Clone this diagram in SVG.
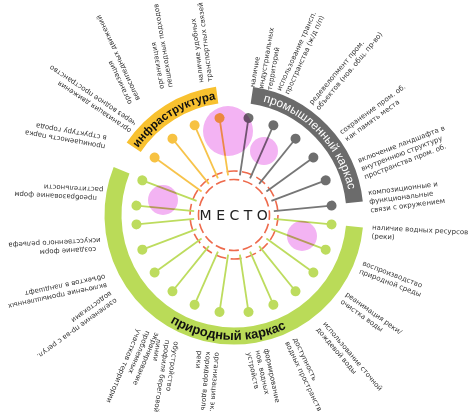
<svg xmlns="http://www.w3.org/2000/svg" width="470" height="417" viewBox="0 0 470 417">
<style>
.lbl{font-family:"DejaVu Sans","Liberation Sans",sans-serif;font-size:7px;fill:#333}
.band{fill:none;stroke-width:17}
.sp{stroke-width:1.8}
.g{stroke:#bddc5e}.gd{fill:#bddc5e}
.o{stroke:#f7c34a}.od{fill:#f7c242}
.k{stroke:#767676}.kd{fill:#6e6e6e}
.ring{fill:none;stroke:#ee6a4c;stroke-width:1.6}
.pink{fill:#f3b3f3}
.arct{font-family:"Liberation Sans","DejaVu Sans",sans-serif}
</style>
<defs>
<path id="pInf" d="M132.68,156.5 A117,117 0 0 1 225.84,98.29"/>
<path id="pProm" d="M234,98 A117,117 0 0 1 350.93,219.08"/>
<path id="pPrir" d="M141.11,298.64 A125,125 0 0 0 317.64,307.89"/>
</defs>
<rect width="470" height="417" fill="#fff"/>

<g id="bands">
<path class="band" stroke="#f8c12f" d="M133.69,147.34 A121,121 0 0 1 217.16,95.18"/>
<path class="band" stroke="#6b6b6b" d="M251.89,95.33 A121,121 0 0 1 354.34,202.35"/>
<path class="band" stroke="#badb58" d="M354.44,226.60 A121,121 0 1 1 121.58,170.26"/>
<text class="arct" font-size="11.5" font-weight="bold" fill="#111"><textPath href="#pInf" startOffset="50%" text-anchor="middle">инфраструктура</textPath></text>
<text class="arct" font-size="12" fill="#fff"><textPath href="#pProm" startOffset="50%" text-anchor="middle">промышленный каркас</textPath></text>
<text class="arct" font-size="13" font-weight="bold" fill="#111"><textPath href="#pPrir" startOffset="50%" text-anchor="middle">природный каркас</textPath></text>
</g>

<g id="rings">
<circle class="ring" cx="234" cy="215" r="44" stroke-dasharray="11 4.36"/>
<circle class="ring" cx="234" cy="215" r="35.5" stroke-dasharray="10 3.94" stroke-dashoffset="5"/>
</g>

<g id="connectors" class="sp">
<line class="g" transform="rotate(5.5 234 215)" x1="274" y1="215" x2="332" y2="215"/>
<line class="g" transform="rotate(20.7 234 215)" x1="274" y1="215" x2="332" y2="215"/>
<line class="g" transform="rotate(35.9 234 215)" x1="274" y1="215" x2="332" y2="215"/>
<line class="g" transform="rotate(51.1 234 215)" x1="274" y1="215" x2="332" y2="215"/>
<line class="g" transform="rotate(66.3 234 215)" x1="274" y1="215" x2="332" y2="215"/>
<line class="g" transform="rotate(81.5 234 215)" x1="274" y1="215" x2="332" y2="215"/>
<line class="g" transform="rotate(98.5 234 215)" x1="274" y1="215" x2="332" y2="215"/>
<line class="g" transform="rotate(113.7 234 215)" x1="274" y1="215" x2="332" y2="215"/>
<line class="g" transform="rotate(128.9 234 215)" x1="274" y1="215" x2="332" y2="215"/>
<line class="g" transform="rotate(144.1 234 215)" x1="274" y1="215" x2="332" y2="215"/>
<line class="g" transform="rotate(159.3 234 215)" x1="274" y1="215" x2="332" y2="215"/>
<line class="g" transform="rotate(174.5 234 215)" x1="274" y1="215" x2="332" y2="215"/>
<line class="g" transform="rotate(185.5 234 215)" x1="274" y1="215" x2="332" y2="215"/>
<line class="g" transform="rotate(200.7 234 215)" x1="274" y1="215" x2="332" y2="215"/>
<line class="o" transform="rotate(215.9 234 215)" x1="274" y1="215" x2="332" y2="215"/>
<line class="o" transform="rotate(231.1 234 215)" x1="274" y1="215" x2="332" y2="215"/>
<line class="o" transform="rotate(246.3 234 215)" x1="274" y1="215" x2="332" y2="215"/>
<line class="o" transform="rotate(261.5 234 215)" x1="274" y1="215" x2="332" y2="215"/>
<line class="k" transform="rotate(278.5 234 215)" x1="274" y1="215" x2="332" y2="215"/>
<line class="k" transform="rotate(293.7 234 215)" x1="274" y1="215" x2="332" y2="215"/>
<line class="k" transform="rotate(308.9 234 215)" x1="274" y1="215" x2="332" y2="215"/>
<line class="k" transform="rotate(324.1 234 215)" x1="274" y1="215" x2="332" y2="215"/>
<line class="k" transform="rotate(339.3 234 215)" x1="274" y1="215" x2="332" y2="215"/>
<line class="k" transform="rotate(354.5 234 215)" x1="274" y1="215" x2="332" y2="215"/>
</g>

<!-- green nodes -->
<g id="g1"><circle class="gd" transform="rotate(5.5 234 215)" cx="332" cy="215" r="5"/>
<text class="lbl" transform="translate(372,229.5) rotate(3)"><tspan x="0" y="0">наличие водных ресурсов</tspan><tspan x="0" y="8.8">(реки)</tspan></text></g>
<g id="g2"><circle class="gd" transform="rotate(20.7 234 215)" cx="332" cy="215" r="5"/>
<text class="lbl" transform="translate(362,265) rotate(21)"><tspan x="0" y="0">воспроизводство</tspan><tspan x="0" y="8.8">природной среды</tspan></text></g>
<g id="g3"><circle class="gd" transform="rotate(35.9 234 215)" cx="332" cy="215" r="5"/>
<text class="lbl" transform="translate(345,295.5) rotate(35.5)"><tspan x="0" y="0">реанимация реки/</tspan><tspan x="0" y="8.8">очистка воды</tspan></text></g>
<g id="g4"><circle class="gd" transform="rotate(51.1 234 215)" cx="332" cy="215" r="5"/>
<text class="lbl" transform="translate(322.7,324) rotate(50)"><tspan x="0" y="0">использование сточной</tspan><tspan x="0" y="8.8">дождевой воды</tspan></text></g>
<g id="g5"><circle class="gd" transform="rotate(66.3 234 215)" cx="332" cy="215" r="5"/>
<text class="lbl" transform="translate(293,339) rotate(64.5)"><tspan x="0" y="0">доступность</tspan><tspan x="0" y="8.8">водных пространств</tspan></text></g>
<g id="g6"><circle class="gd" transform="rotate(81.5 234 215)" cx="332" cy="215" r="5"/>
<text class="lbl" transform="translate(264,349) rotate(78)"><tspan x="0" y="0">формирование</tspan><tspan x="0" y="8.8">нов. водных</tspan><tspan x="0" y="17.6">устройств</tspan></text></g>
<g id="g7"><circle class="gd" transform="rotate(98.5 234 215)" cx="332" cy="215" r="5"/>
<text class="lbl" transform="translate(215,352) rotate(95)"><tspan x="0" y="0">организация эк.</tspan><tspan x="0" y="8.8">коридора вдоль</tspan><tspan x="0" y="17.6">реки</tspan></text></g>
<g id="g8"><circle class="gd" transform="rotate(113.7 234 215)" cx="332" cy="215" r="5"/>
<text class="lbl" transform="translate(174,341) rotate(99)"><tspan x="0" y="0">обустройство</tspan><tspan x="0" y="8.8">профиля береговой</tspan><tspan x="0" y="17.6">линии</tspan></text></g>
<g id="g9"><circle class="gd" transform="rotate(128.9 234 215)" cx="332" cy="215" r="5"/>
<text class="lbl" transform="translate(155,332) rotate(113)"><tspan x="0" y="0">экранирование</tspan><tspan x="2" y="8.8">проблемных</tspan><tspan x="4" y="17.6">участков территории</tspan></text></g>
<g id="g10"><circle class="gd" transform="rotate(144.1 234 215)" cx="332" cy="215" r="5"/>
<text class="lbl" transform="translate(115,298) rotate(144)"><tspan x="0" y="0">озеленение пр-ва с регул.</tspan><tspan x="0" y="8.8">водостоками</tspan></text></g>
<g id="g11"><circle class="gd" transform="rotate(159.3 234 215)" cx="332" cy="215" r="5"/>
<text class="lbl" transform="translate(106.5,283) rotate(168)"><tspan x="0" y="0">включение промышленных</tspan><tspan x="0" y="8.8">объектов в ландшафт</tspan></text></g>
<g id="g12"><circle class="gd" transform="rotate(174.5 234 215)" cx="332" cy="215" r="5"/>
<text class="lbl" transform="translate(96,247) rotate(177)"><tspan x="0" y="0">создание форм</tspan><tspan x="-5" y="8.8">искусственного рельефа</tspan></text></g>
<g id="g13"><circle class="gd" transform="rotate(185.5 234 215)" cx="332" cy="215" r="5"/>
<text class="lbl" transform="translate(97,196) rotate(183)"><tspan x="0" y="0">преобразование форм</tspan><tspan x="-6" y="8.8">растительности</tspan></text></g>
<g id="g14"><circle class="gd" transform="rotate(200.7 234 215)" cx="332" cy="215" r="5"/>
<text class="lbl" transform="translate(105.5,144.5) rotate(190)"><tspan x="0" y="0">проницаемость парка</tspan><tspan x="0" y="8.8">в структуру города</tspan></text></g>

<!-- infrastructure nodes -->
<g id="o1"><circle class="od" transform="rotate(215.9 234 215)" cx="332" cy="215" r="5"/>
<text class="lbl" transform="translate(131.7,129.5) rotate(214)"><tspan x="0" y="0">организация движения</tspan><tspan x="0" y="8.8">через водное пространство</tspan></text></g>
<g id="o2"><circle class="od" transform="rotate(231.1 234 215)" cx="332" cy="215" r="5"/>
<text class="lbl" transform="translate(132,103) rotate(245)"><tspan x="0" y="0">организация</tspan><tspan x="0" y="8.8">велосипедных движений</tspan></text></g>
<g id="o3"><circle class="od" transform="rotate(246.3 234 215)" cx="332" cy="215" r="5"/>
<text class="lbl" transform="translate(164,88.5) rotate(260)"><tspan x="0" y="0">организация</tspan><tspan x="0" y="8.8">пешеходных подходов</tspan></text></g>
<g id="o4"><circle class="od" transform="rotate(261.5 234 215)" cx="332" cy="215" r="5"/>
<text class="lbl" transform="translate(203.5,82.6) rotate(263)"><tspan x="0" y="0">наличие удобных</tspan><tspan x="0" y="8.8">транспортных связей</tspan></text></g>

<!-- industrial nodes -->
<g id="p1"><circle class="kd" transform="rotate(278.5 234 215)" cx="332" cy="215" r="5"/>
<text class="lbl" transform="translate(254.5,87.5) rotate(-80)"><tspan x="0" y="0">наличие</tspan><tspan x="0" y="8.8">индустриальных</tspan><tspan x="0" y="17.6">территорий</tspan></text></g>
<g id="p2"><circle class="kd" transform="rotate(293.7 234 215)" cx="332" cy="215" r="5"/>
<text class="lbl" transform="translate(280.7,91.2) rotate(-65.6)"><tspan x="0" y="0">использование трансп.</tspan><tspan x="0" y="8.8">пространства (ж/д п/п)</tspan></text></g>
<g id="p3"><circle class="kd" transform="rotate(308.9 234 215)" cx="332" cy="215" r="5"/>
<text class="lbl" transform="translate(312.3,104.9) rotate(-50)"><tspan x="0" y="0">редевелопмент пром.</tspan><tspan x="0" y="8.8">объектов (нов. общ. пр-во)</tspan></text></g>
<g id="p4"><circle class="kd" transform="rotate(324.1 234 215)" cx="332" cy="215" r="5"/>
<text class="lbl" transform="translate(341.8,134.4) rotate(-36)"><tspan x="0" y="0">сохранение пром. об.</tspan><tspan x="0" y="8.8">как память места</tspan></text></g>
<g id="p5"><circle class="kd" transform="rotate(339.3 234 215)" cx="332" cy="215" r="5"/>
<text class="lbl" transform="translate(359,162.8) rotate(-21)"><tspan x="0" y="0">включение ландшафта в</tspan><tspan x="0" y="8.8">внутреннюю структуру</tspan><tspan x="0" y="17.6">пространства пром. об.</tspan></text></g>
<g id="p6"><circle class="kd" transform="rotate(354.5 234 215)" cx="332" cy="215" r="5"/>
<text class="lbl" transform="translate(368.4,195) rotate(-7.3)"><tspan x="0" y="0">композиционные и</tspan><tspan x="0" y="8.8">функциональные</tspan><tspan x="0" y="17.6">связи с окружением</tspan></text></g>

<g id="highlights" style="mix-blend-mode:multiply">
<circle class="pink" cx="228" cy="131" r="25"/>
<circle class="pink" cx="264" cy="151" r="14"/>
<circle class="pink" cx="163" cy="200" r="15"/>
<circle class="pink" cx="302" cy="236" r="15"/>
</g>

<g id="center">
<text x="236" y="220" text-anchor="middle" font-family="DejaVu Sans, sans-serif" font-size="14" letter-spacing="4.5" fill="#222">МЕСТО</text>
</g>
</svg>
